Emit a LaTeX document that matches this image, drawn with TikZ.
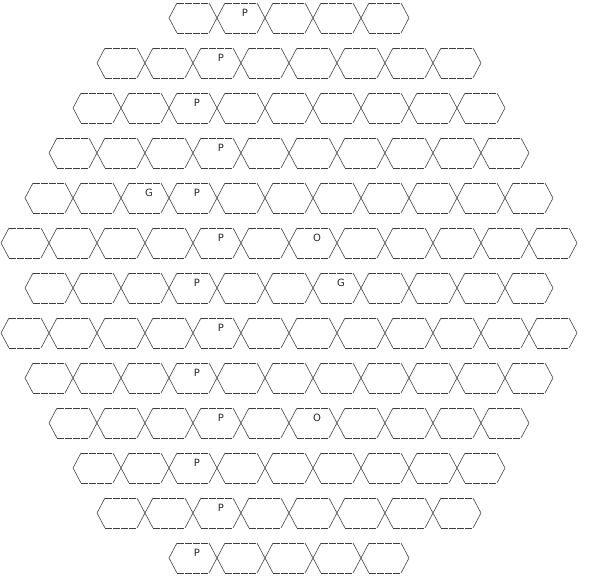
\documentclass[tikz,border=0pt]{standalone}
\usepackage{fontspec}
\setsansfont{DejaVu Sans}
\usetikzlibrary{calc}

\begin{document}
\begin{tikzpicture}[x=1pt, y=-1pt,
  cell/.style={draw=black!75, line width=0.6pt},
  celledge/.style={draw=black!75, line width=0.6pt, dash pattern=on 7pt off 1pt},
  piece/.style={font=\sffamily\fontsize{10}{12}\selectfont, inner sep=0pt, text=black!85},
]
  \useasboundingbox (0,0) rectangle (594,577);

  % board rows: row / left tip / number of cells
  \foreach \r/\x/\n in {1/169/5, 2/97/8, 3/73/9, 4/49/10, 5/25/11, 6/1/12, 7/25/11,
                        8/1/12, 9/25/11, 10/49/10, 11/73/9, 12/97/8, 13/169/5} {
    \foreach \i in {1,...,\n} {
      \coordinate (h-\r-\i) at ({\x+24+48*(\i-1)}, {18+45*(\r-1)});
      \draw[cell] ([xshift=-24pt]h-\r-\i) -- ++(8,-15) ++(32,0) -- ++(8,15) -- ++(-8,15)
        ++(-32,0) -- ++(-8,-15);
      \draw[celledge] ($(h-\r-\i)+(-16,-15)$) -- ++(32,0);
      \draw[celledge] ($(h-\r-\i)+(-16,15)$) -- ++(32,0);
    }
  }

  % pieces
  \foreach \r/\i/\t in {1/2/P, 2/3/P, 3/3/P, 4/4/P, 5/3/G, 5/4/P, 6/5/P, 6/7/O, 7/4/P,
                        7/7/G, 8/5/P, 9/4/P, 10/4/P, 10/6/O, 11/3/P, 12/3/P, 13/1/P}
    \node[piece] (pc-\r-\i) at ($(h-\r-\i)+(4,-5)$) {\t};
\end{tikzpicture}
\end{document}
